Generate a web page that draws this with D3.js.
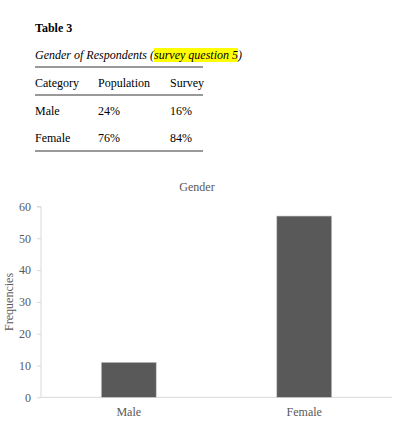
<!DOCTYPE html>
<html><head><meta charset="utf-8">
<script src="https://cdn.jsdelivr.net/npm/d3@7"></script>
<style>
html,body{margin:0;padding:0;background:#fff;}
svg{display:block;font-family:"Liberation Serif","Times New Roman",serif;}
svg text{font-family:"Liberation Serif","Times New Roman",serif !important;}
</style></head>
<body>
<svg id="c" width="408" height="424"></svg>
<script>
// Table data
const tableTitle = "Table 3";
const tableCaption = "Gender of Respondents (";
const tableCaptionHL = "survey question 5";
const tableHeaders = ["Category", "Population", "Survey"];
const tableRows = [["Male", "24%", "16%"], ["Female", "76%", "84%"]];

// Chart data
const chartTitle = "Gender";
const categories = ["Male", "Female"];
const frequencies = [11, 57];
const yTicks = [0, 10, 20, 30, 40, 50, 60];
const yLabel = "Frequencies";

const svg = d3.select("#c");

// ---- Table ----
const tx = 35;
const colX = [35, 98, 170];
svg.append("text").attr("x", tx).attr("y", 32).attr("font-size", 12).attr("font-weight", "bold").attr("fill", "#000").text(tableTitle);

const cap = svg.append("text").attr("x", tx).attr("y", 59).attr("font-size", 12).attr("font-style", "italic").attr("fill", "#000");
cap.append("tspan").text(tableCaption);
cap.append("tspan").text(tableCaptionHL);
cap.append("tspan").text(")");
const capNode = cap.node();
const n0 = tableCaption.length;
const s = capNode.getStartPositionOfChar(n0);
const e = capNode.getEndPositionOfChar(n0 + tableCaptionHL.length - 1);
svg.insert("rect", "text").attr("x", s.x).attr("y", 48).attr("width", e.x - s.x).attr("height", 14).attr("fill", "#ffff00");

const ruleX2 = 203;
[67, 95, 151].forEach(y => {
  svg.append("line").attr("x1", tx).attr("x2", ruleX2).attr("y1", y).attr("y2", y).attr("stroke", "#777").attr("stroke-width", 1.3);
});
tableHeaders.forEach((h, i) => {
  svg.append("text").attr("x", colX[i]).attr("y", 87).attr("font-size", 12).attr("fill", "#000").text(h);
});
const rowY = [115, 142];
tableRows.forEach((r, j) => {
  r.forEach((v, i) => {
    svg.append("text").attr("x", colX[i]).attr("y", rowY[j]).attr("font-size", 12).attr("fill", "#000").text(v);
  });
});

// ---- Chart ----
const m = {left: 41, right: 392, top: 206.5, bottom: 397.3};
const x = d3.scaleBand().domain(categories).range([m.left, m.right]).paddingInner(0.687).paddingOuter(0.3435);
const y = d3.scaleLinear().domain([0, 60]).range([m.bottom, m.top]);

svg.append("text").attr("x", 197).attr("y", 191).attr("text-anchor", "middle").attr("font-size", 12).attr("fill", "#595959").text(chartTitle);

// y axis
const yAxis = svg.append("g").attr("transform", `translate(${m.left},0)`)
  .call(d3.axisLeft(y).tickValues(yTicks).tickSize(4).tickPadding(6))
  .attr("font-family", "Liberation Serif, serif");
yAxis.select(".domain").attr("stroke", "#d9d9d9").attr("d", `M-4,${m.top}H0V${m.bottom}`);
yAxis.selectAll(".tick line").attr("stroke", "#d9d9d9");
yAxis.selectAll(".tick text").attr("fill", "#595959").attr("font-size", 12);

// x axis
const xAxis = svg.append("g").attr("transform", `translate(0,${m.bottom})`)
  .call(d3.axisBottom(x).tickSize(0).tickPadding(10))
  .attr("font-family", "Liberation Serif, serif");
xAxis.select(".domain").attr("stroke", "#d9d9d9").attr("d", `M${m.left},0H${m.right}`);
xAxis.selectAll(".tick text").attr("fill", "#595959").attr("font-size", 12);

// bars
svg.append("g").selectAll("rect").data(categories).join("rect")
  .attr("x", d => x(d))
  .attr("y", (d, i) => y(frequencies[i]))
  .attr("width", x.bandwidth())
  .attr("height", (d, i) => y(0) - y(frequencies[i]))
  .attr("fill", "#595959")
  .attr("stroke", "#c8c8c8").attr("stroke-width", 0.6);

// y label
svg.append("text").attr("transform", `translate(12.5,${(m.top + m.bottom) / 2}) rotate(-90)`)
  .attr("text-anchor", "middle").attr("font-size", 12).attr("fill", "#595959").text(yLabel);
</script>
</body></html>
